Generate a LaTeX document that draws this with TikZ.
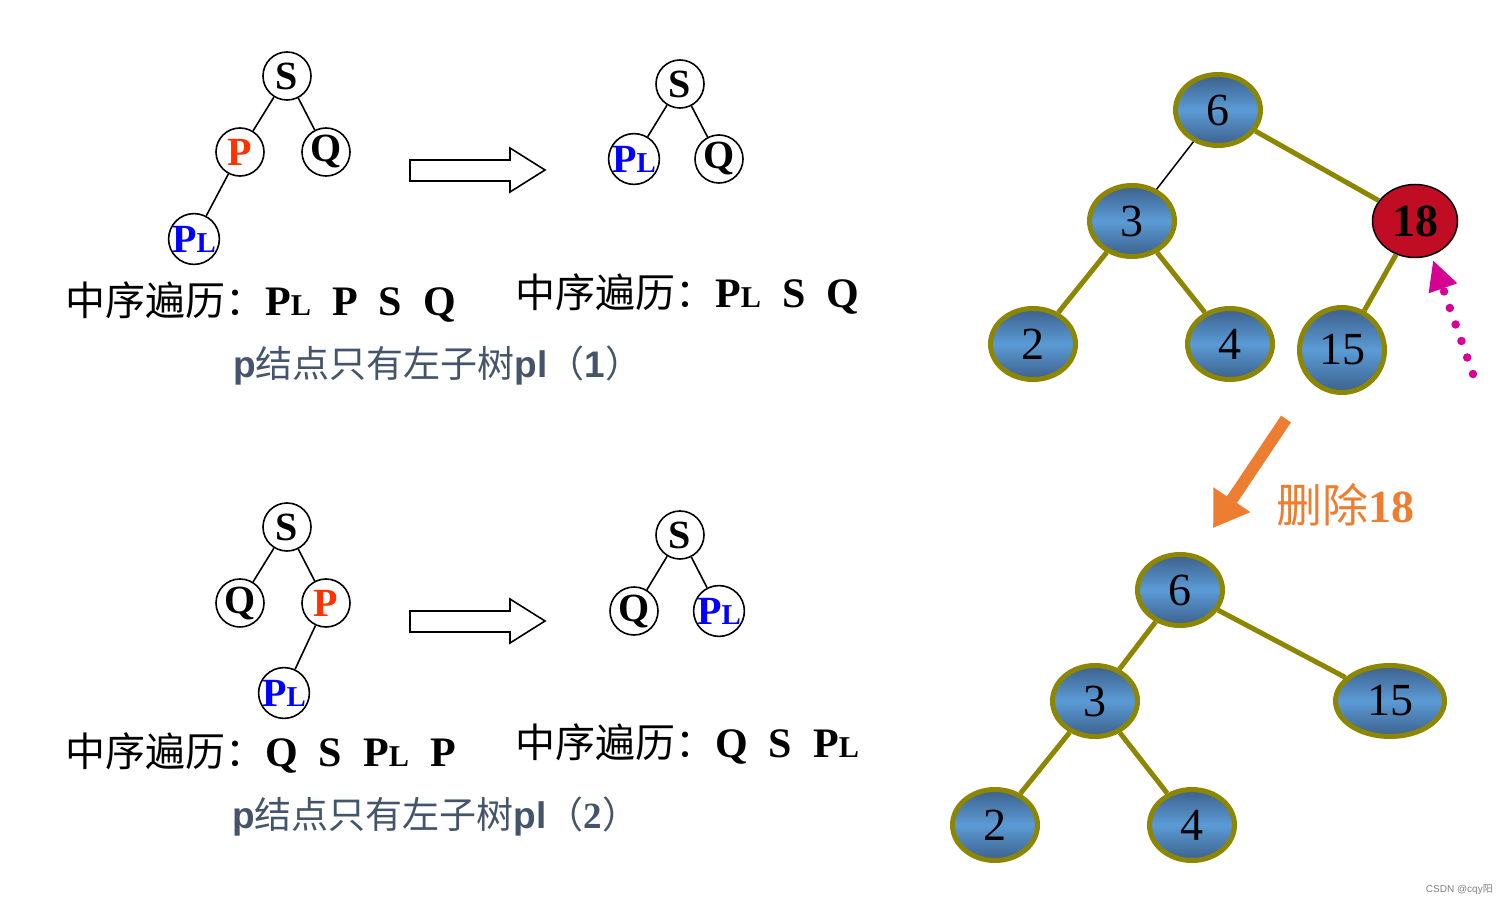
\documentclass[tikz,border=0pt]{standalone}
\usepackage{fontspec}
\setmainfont{Liberation Serif}
\newfontfamily\cjk{Noto Sans CJK SC}
\newfontfamily\hei{Liberation Sans}
\usetikzlibrary{shapes.geometric,arrows.meta}

\definecolor{pred}{RGB}{255,51,0}
\definecolor{plblue}{RGB}{0,0,255}
\definecolor{capgray}{RGB}{68,84,106}
\definecolor{nodeblue}{RGB}{91,155,213}
\definecolor{nodedark}{RGB}{60,96,140}
\definecolor{delred}{RGB}{192,13,36}
\definecolor{dotpink}{RGB}{214,0,147}
\definecolor{delorange}{RGB}{237,125,49}

\newcommand{\pL}{P\scalebox{0.72}{L}}
\newcommand{\zx}{{\mdseries\cjk\fontsize{40}{40}\selectfont 中序遍历：}}

\tikzset{
  cnode/.style={circle, draw, line width=1.6pt, minimum size=48pt, inner sep=0pt,
    font=\fontsize{40}{40}\selectfont\bfseries},
  bnode/.style={ellipse, draw=olive, line width=5pt, minimum width=85pt, minimum height=71pt,
    inner sep=0pt, top color=nodedark, bottom color=nodedark, middle color=nodeblue,
    font=\fontsize{46}{46}\selectfont},
  bedge/.style={draw=olive, line width=5pt},
  seq/.style={anchor=base west, inner sep=0pt, font=\fontsize{42}{42}\selectfont\bfseries},
  captext/.style={anchor=base west, inner sep=0pt, text=capgray, font=\fontsize{37}{37}\selectfont},
}

\begin{document}
\begin{tikzpicture}[x=1pt, y=-1pt]
        \useasboundingbox (0,0) rectangle (1508,904);

        % Cây (1): trước khi xoá
        \node[cnode] (s1) at (287,76) {S};
        \node[cnode, text=pred] (p1) at (240,152) {P};
        \node[cnode] (q1) at (326,152) {Q};
        \node[cnode, text=plblue] (pl1) at (194,239) {\pL};
        \draw[line width=1.6pt] (s1) -- (p1);
        \draw[line width=1.6pt] (s1) -- (q1);
        \draw[line width=1.6pt] (p1) -- (pl1);

        % Cây (1): sau khi xoá
        \node[cnode] (s2) at (680,84) {S};
        \node[cnode, text=plblue] (pl2) at (634,159) {\pL};
        \node[cnode] (q2) at (719,159) {Q};
        \draw[line width=1.6pt] (s2) -- (pl2);
        \draw[line width=1.6pt] (s2) -- (q2);

        % Cây (2): trước khi xoá
        \node[cnode] (s3) at (287,527) {S};
        \node[cnode] (q3) at (240,603) {Q};
        \node[cnode, text=pred] (p3) at (326,603) {P};
        \node[cnode, text=plblue] (pl3) at (284,693) {\pL};
        \draw[line width=1.6pt] (s3) -- (q3);
        \draw[line width=1.6pt] (s3) -- (p3);
        \draw[line width=1.6pt] (p3) -- (pl3);

        % Cây (2): sau khi xoá
        \node[cnode] (s4) at (680,535) {S};
        \node[cnode] (q4) at (634,611) {Q};
        \node[cnode, text=plblue] (pl4) at (719,611) {\pL};
        \draw[line width=1.6pt] (s4) -- (q4);
        \draw[line width=1.6pt] (s4) -- (pl4);

        % Mũi tên rỗng
        \foreach \dy in {0, 451} {
            \draw[line width=1.6pt] (410,160+\dy) -- (510,160+\dy) -- (510,148+\dy) -- (545,170+\dy)
                -- (510,192+\dy) -- (510,181+\dy) -- (410,181+\dy) -- cycle;
        }

        % Dãy trung thứ tự
        \node[seq] (t1) at (65,316) {\zx\pL\ \ P\ \ S\ \ Q};
        \node[seq] (t2) at (515,307) {\zx\pL\ \ S\ \ Q};
        \node[seq] (t3) at (65,766) {\zx Q\ \ S\ \ \pL\ \ P};
        \node[seq] (t4) at (515,757) {\zx Q\ \ S\ \ \pL};

        % Chú thích
        \node[captext] (c1) at (233,377) {{\hei\bfseries p}{\cjk 结点只有左子树}{\hei\bfseries pl}{\cjk （}{\hei\bfseries 1}{\cjk ）}};
        \node[captext] (c2) at (232,828) {{\hei\bfseries p}{\cjk 结点只有左子树}{\hei\bfseries pl}{\cjk （}{\bfseries 2}{\cjk ）}};

        % Cây nhị phân trước khi xoá 18
        \node[bnode] (a6) at (1218,110) {6};
        \node[bnode] (a3) at (1132,221) {3};
        \node[ellipse, draw, line width=1.5pt, fill=delred, minimum width=85pt, minimum height=73pt,
            inner sep=0pt, font=\fontsize{46}{46}\selectfont\bfseries] (a18) at (1415,221) {18};
        \node[bnode] (a2) at (1033,344) {2};
        \node[bnode] (a4) at (1230,344) {4};
        \node[bnode, minimum width=85pt, minimum height=85pt] (a15) at (1342,350) {15};
        \draw[line width=1.5pt] (a6) -- (a3);
        \draw[bedge] (a6) -- (a18);
        \draw[bedge] (a3) -- (a2);
        \draw[bedge] (a3) -- (a4);
        \draw[bedge] (a18) -- (a15);

        % Mũi tên chấm
        \coordinate (ma) at (1473,374);
        \coordinate (mb) at (1433,260);
        \draw[dotpink, line width=8.5pt, line cap=round, dash pattern=on 0pt off 17.5pt,
            -{Triangle[length=30pt, width=28pt]}] (ma) -- (mb);

        % Xoá 18
        \coordinate (oa) at (1286,419);
        \coordinate (ob) at (1213,528);
        \draw[delorange, line width=12pt, -{Triangle[length=34pt, width=42pt]}] (oa) -- (ob);
        \node[anchor=base west, inner sep=0pt, text=delorange, font=\fontsize{46}{46}\selectfont]
            (del) at (1276,522) {{\cjk 删除}{\bfseries 18}};

        % Cây nhị phân sau khi xoá 18
        \node[bnode] (b6) at (1180,590) {6};
        \node[bnode] (b3) at (1095,701) {3};
        \node[bnode, minimum width=109pt] (b15) at (1390,701) {15};
        \node[bnode] (b2) at (995,825) {2};
        \node[bnode] (b4) at (1192,825) {4};
        \draw[bedge] (b6) -- (b3);
        \draw[bedge] (b6) -- (b15);
        \draw[bedge] (b3) -- (b2);
        \draw[bedge] (b3) -- (b4);

        \node[anchor=base east, inner sep=0pt, text=gray, font=\hei\fontsize{10}{10}\selectfont]
            (mark) at (1493,892) {CSDN @cqy{\cjk 阳}};

    \end{tikzpicture}
\end{document}
